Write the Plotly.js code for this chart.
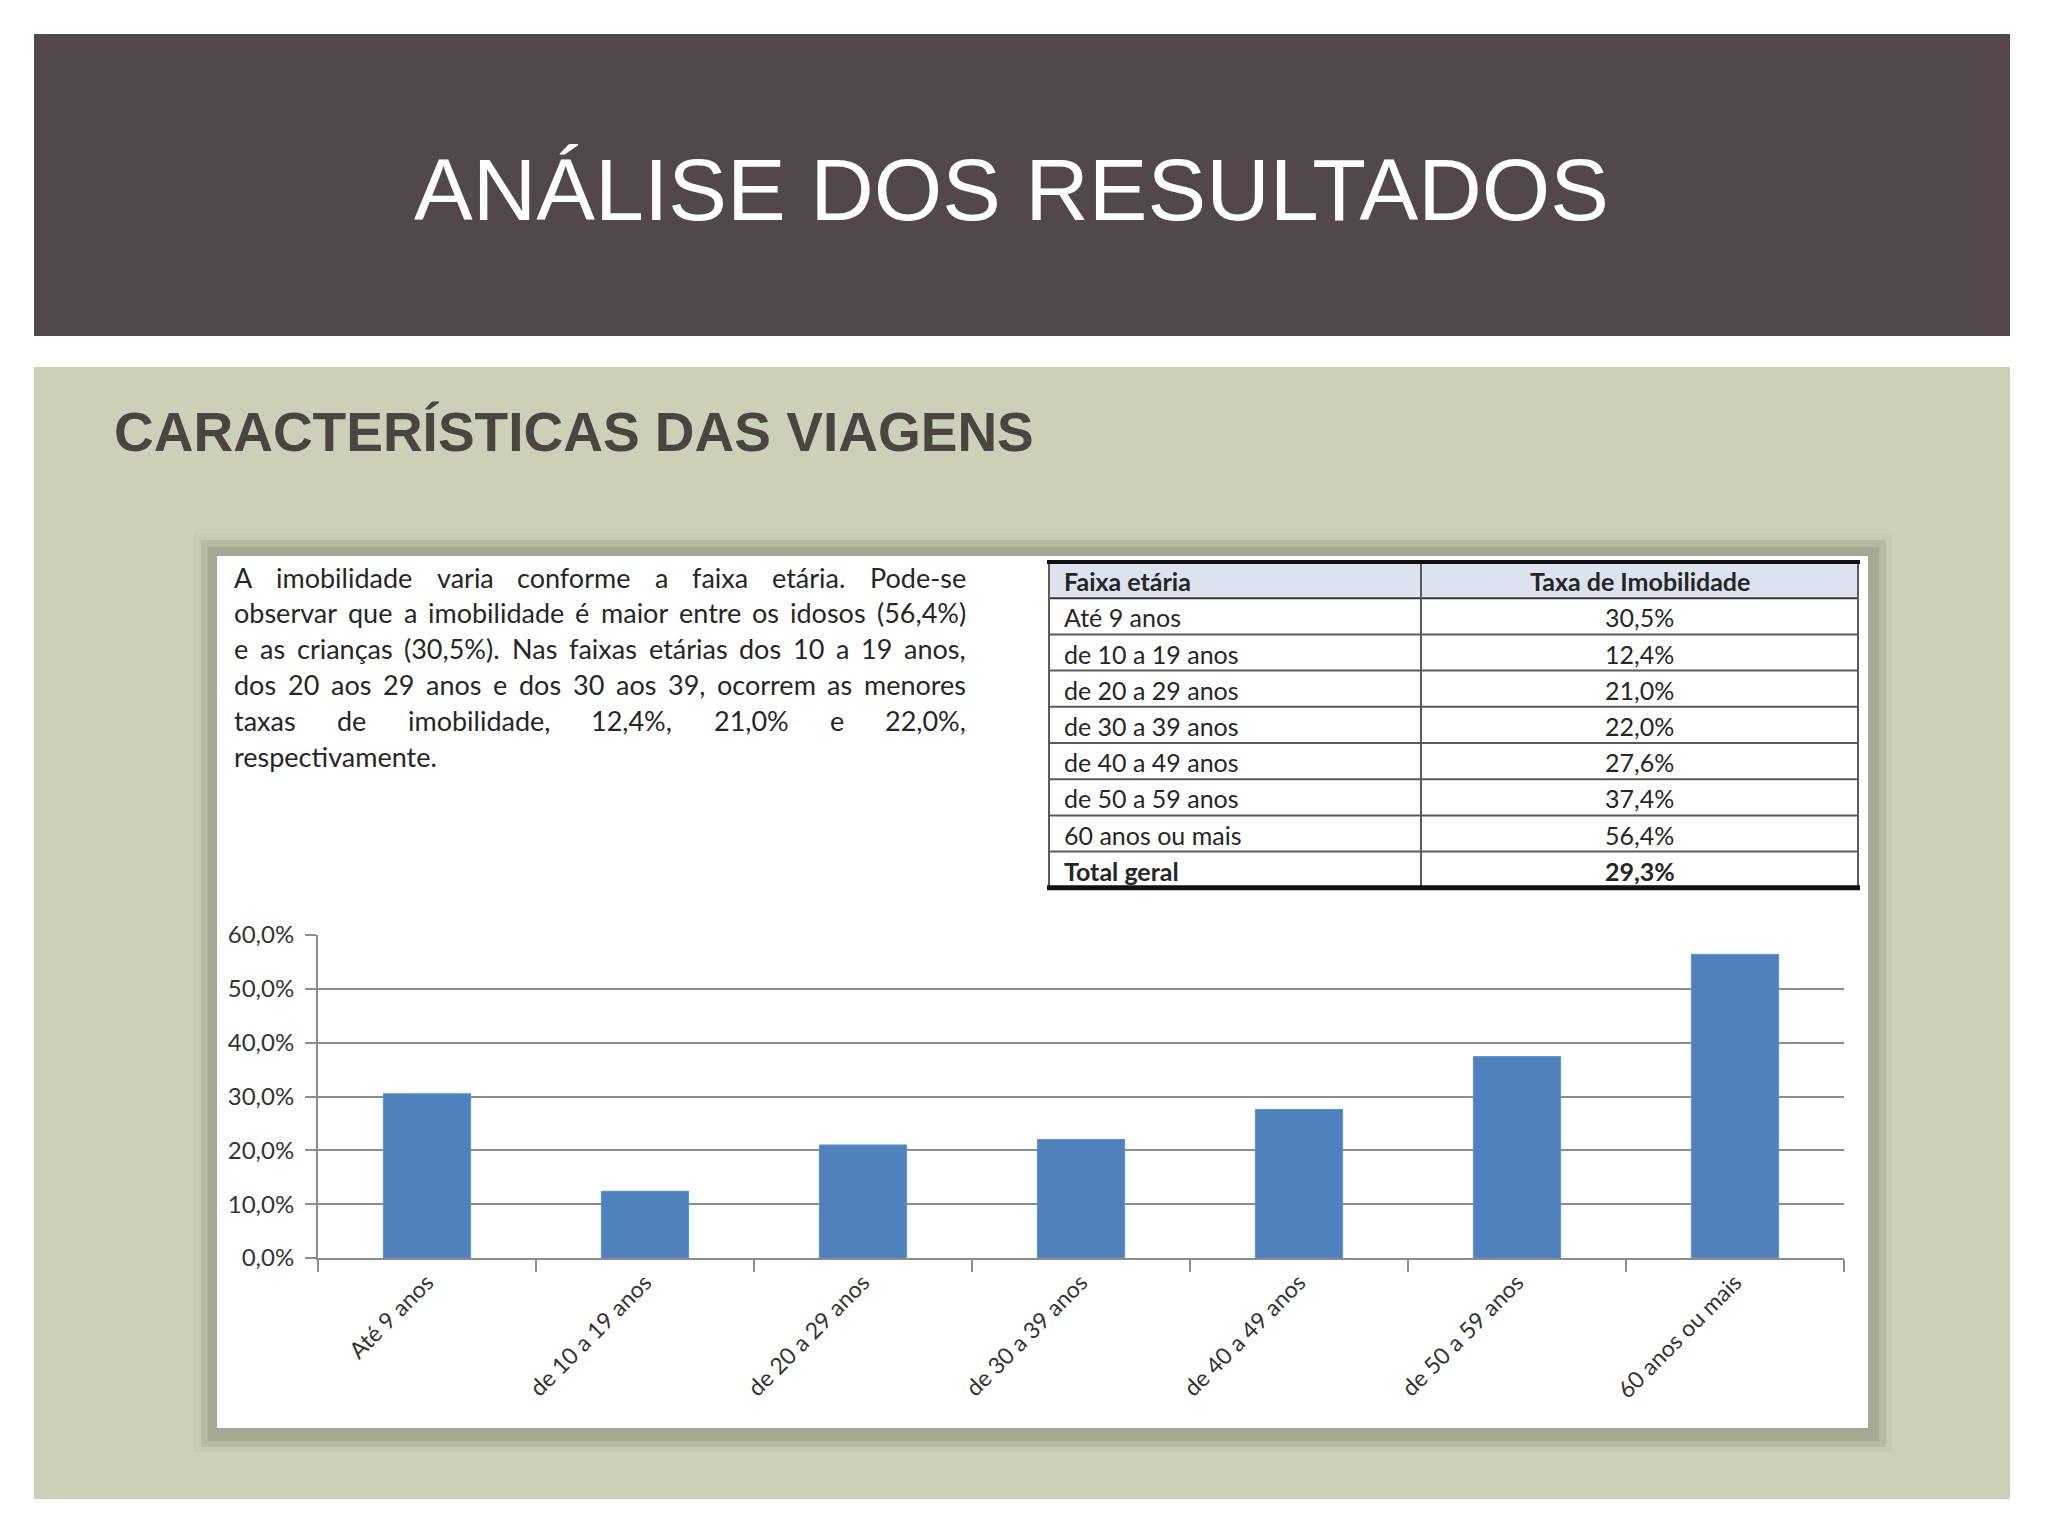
<!DOCTYPE html>
<html><head><meta charset="utf-8">
<script src="https://cdn.plot.ly/plotly-3.0.1.min.js"></script>
<style>html,body{margin:0;padding:0;background:#fff}</style>
</head><body>
<div id="chart" style="width:2048px;height:1536px"></div>
<script>
// ---------- data ----------
const categories = ['Até 9 anos', 'de 10 a 19 anos', 'de 20 a 29 anos', 'de 30 a 39 anos',
                    'de 40 a 49 anos', 'de 50 a 59 anos', '60 anos ou mais'];
const imobilidade = [30.5, 12.4, 21.0, 22.0, 27.6, 37.4, 56.4];
const totalLabel = 'Total geral';
const totalValue = 29.3;
const yTicks = [0, 10, 20, 30, 40, 50, 60];
const tableHeader = ['Faixa etária', 'Taxa de Imobilidade'];
const slideTitle = 'ANÁLISE DOS RESULTADOS';
const sectionTitle = 'CARACTERÍSTICAS DAS VIAGENS';
const paragraphLines = [
  'A imobilidade varia conforme a faixa etária. Pode-se',
  'observar que a imobilidade é maior entre os idosos (56,4%)',
  'e as crianças (30,5%). Nas faixas etárias dos 10 a 19 anos,',
  'dos 20 aos 29 anos e dos 30 aos 39, ocorrem as menores',
  'taxas de imobilidade, 12,4%, 21,0% e 22,0%,',
  'respectivamente.'
];

// ---------- helpers ----------
const W = 2048, H = 1536;
const px = x => x / W;
const py = y => 1 - y / H;
const fmt = v => v.toFixed(1).replace('.', ',') + '%';
const FONT = 'Lato, "Open Sans", sans-serif';

function rect(x0, y0, x1, y1, color) {
  return {type: 'rect', xref: 'paper', yref: 'paper', x0: px(x0), x1: px(x1),
          y0: py(y1), y1: py(y0), fillcolor: color, line: {width: 0}, layer: 'below'};
}
function seg(x0, y0, x1, y1, color, w) {
  return {type: 'line', xref: 'paper', yref: 'paper', x0: px(x0), x1: px(x1),
          y0: py(y0), y1: py(y1), line: {color: color, width: w}, layer: 'below'};
}
function label(x, y, text, anchor, font) {
  return {xref: 'paper', yref: 'paper', x: px(x), y: py(y), xanchor: anchor, yanchor: 'middle',
          text: text, showarrow: false, font: font};
}

const shapes = [
  rect(34, 34, 2010, 336, '#524849'),
  rect(34, 367, 2010, 1499, '#CDD0B9'),
  rect(194, 533, 1892, 1452, '#C7C9B4'),
  rect(201, 540, 1886, 1447, '#B6B8A3'),
  rect(208, 547, 1879, 1441, '#A6A893'),
  rect(217, 556, 1868, 1428, '#FFFFFF')
];

// ---------- annotations ----------
const annotations = [
  label(1011, 190, slideTitle, 'center',
        {family: '"Liberation Sans", Arial, sans-serif', size: 88, color: '#FFFFFF'}),
  label(112, 432, sectionTitle, 'left',
        {family: '"Liberation Sans", Arial, sans-serif', size: 55, weight: 700, color: '#4A4542'})
];

// justified paragraph
const pSize = 27;
const ctx = document.createElement('canvas').getContext('2d');
ctx.font = pSize + 'px Lato';
const pLeft = 234, pRight = 966, pTop = 577, pStep = 35.8;
paragraphLines.forEach((line, i) => {
  const words = line.split(' ');
  const widths = words.map(w => ctx.measureText(w).width);
  const sum = widths.reduce((a, b) => a + b, 0);
  const last = i === paragraphLines.length - 1;
  const gap = (!last && words.length > 1) ? (pRight - pLeft - sum) / (words.length - 1)
                                          : ctx.measureText(' ').width;
  let cx = pLeft;
  words.forEach((w, k) => {
    annotations.push(label(cx - 2, pTop + i * pStep, w, 'left',
                           {family: FONT, size: pSize, color: '#262626'}));
    cx += widths[k] + gap;
  });
});

// table (built from the data arrays)
const tL = 1049, tM = 1421, tR = 1858, tTop = 562, rowH = 36.2;
const col1 = [tableHeader[0]].concat(categories, [totalLabel]);
const col2 = [tableHeader[1]].concat(imobilidade.map(fmt), [fmt(totalValue)]);
const nRows = col1.length;
const tBot = tTop + rowH * nRows;
shapes.push(rect(tL, tTop, tR, tTop + rowH, '#DCE3EE'));
for (let k = 1; k < nRows; k++) {
  shapes.push(seg(tL, tTop + rowH * k, tR, tTop + rowH * k, k === 1 ? '#3A3A3A' : '#5A5A5A', 2));
}
[tL, tM, tR].forEach(x => shapes.push(seg(x, tTop, x, tBot, '#5A5A5A', 2)));
shapes.push(seg(tL - 2, tTop, tR + 2, tTop, '#111111', 4));
shapes.push(seg(tL - 2, tBot, tR + 2, tBot, '#111111', 5));
const tFont = {family: FONT, size: 25, color: '#262626'};
for (let k = 0; k < nRows; k++) {
  const bold = (k === 0 || k === nRows - 1);
  const f = Object.assign({}, tFont, {weight: bold ? 700 : 400});
  const yc = tTop + rowH * (k + 0.5) + 1;
  annotations.push(label(tL + 13, yc, col1[k], 'left', f));
  annotations.push(label((tM + tR) / 2, yc, col2[k], 'center', f));
}

// ---------- traces ----------
const bars = {
  type: 'bar', x: categories, y: imobilidade,
  marker: {color: '#4F81BD', line: {color: '#5B8FCB', width: 1}},
  hoverinfo: 'skip', showlegend: false
};

const layout = {
  width: W, height: H,
  margin: {l: 0, r: 0, t: 0, b: 0, pad: 0},
  paper_bgcolor: '#FFFFFF', plot_bgcolor: 'rgba(0,0,0,0)',
  separators: ',.',
  showlegend: false,
  bargap: 0.6,
  xaxis: {
    domain: [px(318), px(1844)], type: 'category', automargin: false,
    showline: true, linecolor: '#8C8C8C', linewidth: 2,
    ticks: 'outside', tickson: 'boundaries', ticklen: 12, tickwidth: 2, tickcolor: '#8C8C8C',
    tickangle: -45, tickfont: {family: FONT, size: 23, color: '#333333'},
    showgrid: false, zeroline: false, fixedrange: true
  },
  yaxis: {
    domain: [py(1258), py(935)], range: [0, 60], automargin: false,
    tickmode: 'array', tickvals: yTicks, ticktext: yTicks.map(fmt),
    showgrid: true, gridcolor: '#8C8C8C', gridwidth: 2,
    showline: true, linecolor: '#8C8C8C', linewidth: 2,
    ticks: 'outside', ticklen: 11, tickwidth: 2, tickcolor: '#8C8C8C',
    ticklabelstandoff: 6,
    tickfont: {family: FONT, size: 24, color: '#333333'},
    zeroline: false, fixedrange: true
  },
  shapes: shapes,
  annotations: annotations
};

Plotly.newPlot('chart', [bars], layout, {staticPlot: true, displayModeBar: false});
</script>
</body></html>
